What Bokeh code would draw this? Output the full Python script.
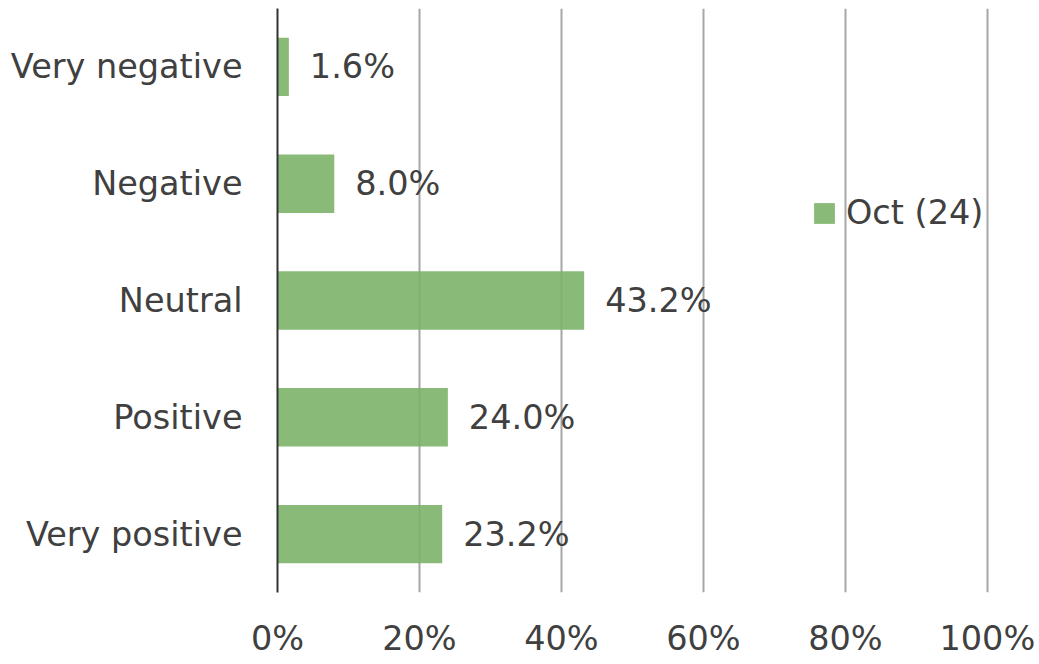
from bokeh.plotting import figure
from bokeh.models import ColumnDataSource, FactorRange, Legend, LegendItem
from bokeh.core.properties import value
from bokeh.embed import file_html
from bokeh.resources import INLINE

categories = ["Very negative", "Negative", "Neutral", "Positive", "Very positive"]
values = [1.6, 8.0, 43.2, 24.0, 23.2]
labels = ["1.6%", "8.0%", "43.2%", "24.0%", "23.2%"]
x_ticks = [0, 20, 40, 60, 80, 100]
x_tick_labels = ["0%", "20%", "40%", "60%", "80%", "100%"]
series_name = "Oct (24)"

FONT = "DejaVu Sans"
TXT = "#404040"

src = ColumnDataSource(dict(cat=categories, val=values, lab=labels))

p = figure(width=1039, height=664, output_backend="svg", toolbar_location=None,
           y_range=FactorRange(factors=list(reversed(categories))),
           x_range=(0, 100.3),
           frame_width=712, frame_height=584,
           min_border_left=277, min_border_right=50, min_border_top=8, min_border_bottom=72)
p.outline_line_color = None
p.background_fill_color = "white"

r = p.hbar(y="cat", left=0, right="val", height=0.5, source=src,
           fill_color="#7DB369", fill_alpha=0.9, line_color=None)

p.text(x="val", y="cat", text="lab", source=src, x_offset=21,
       text_align="left", text_baseline="middle",
       text_font=value(FONT), text_font_size="33.5px", text_color=TXT)

p.xgrid.grid_line_color = "#A6A6A6"
p.xgrid.grid_line_width = 2
p.ygrid.grid_line_color = None

p.xaxis.ticker = x_ticks
p.xaxis.major_label_overrides = {t: l for t, l in zip(x_ticks, x_tick_labels)}
p.xaxis.axis_line_color = None
p.xaxis.major_tick_line_color = None
p.xaxis.minor_tick_line_color = None
p.xaxis.major_tick_out = 0
p.xaxis.major_tick_in = 0
p.xaxis.major_label_standoff = 26
p.xaxis.major_label_text_font = FONT
p.xaxis.major_label_text_font_size = "33.5px"
p.xaxis.major_label_text_color = TXT

p.yaxis.axis_line_color = "#333333"
p.yaxis.axis_line_width = 2
p.yaxis.major_tick_line_color = None
p.yaxis.minor_tick_line_color = None
p.yaxis.major_tick_out = 0
p.yaxis.major_tick_in = 0
p.yaxis.major_label_standoff = 35
p.yaxis.major_label_text_font = FONT
p.yaxis.major_label_text_font_size = "33.5px"
p.yaxis.major_label_text_color = TXT

legend = Legend(items=[LegendItem(label=series_name, renderers=[r])],
                location=(534, 360), padding=0, margin=0, spacing=0,
                glyph_width=26, glyph_height=26, label_standoff=9,
                label_text_font=FONT, label_text_font_size="33.5px", label_text_color=TXT,
                border_line_color=None, background_fill_alpha=0)
p.add_layout(legend, "center")

open("out.html", "w").write(file_html(p, INLINE))
